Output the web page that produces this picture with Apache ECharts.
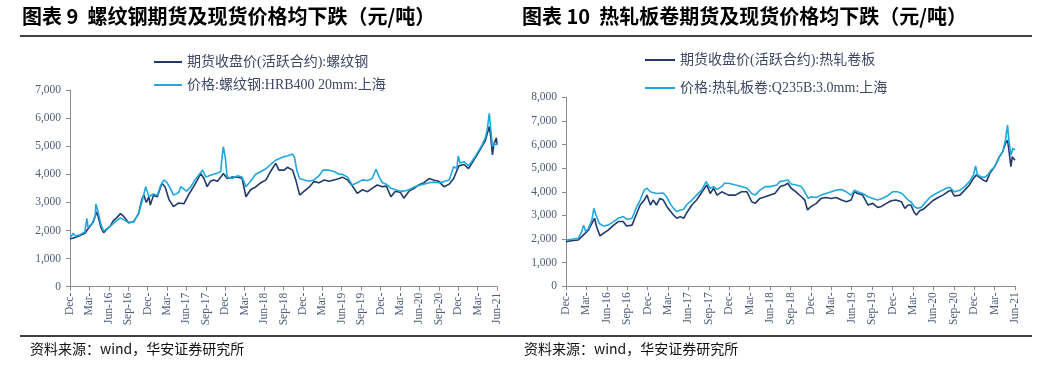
<!DOCTYPE html>
<html><head><meta charset="utf-8">
<script src="https://cdn.jsdelivr.net/npm/echarts@6/dist/echarts.min.js"></script>
<style>html,body{margin:0;padding:0;background:#fff}#c{width:1052px;height:369px}</style>
</head><body><div id="c"></div>
<script>
// x positions are months since Dec-2015 (0 = Dec-15, 66 = Jun-21)
const quarterLabels = ['Dec-','Mar-','Jun-16','Sep-16','Dec-','Mar-','Jun-17','Sep-17','Dec-','Mar-','Jun-18','Sep-18','Dec-','Mar-','Jun-19','Sep-19','Dec-','Mar-','Jun-20','Sep-20','Dec-','Mar-','Jun-21'];
const leftTicks = [0,1000,2000,3000,4000,5000,6000,7000];
const rightTicks = [0,1000,2000,3000,4000,5000,6000,7000,8000];

const rebarFuturesName = '期货收盘价(活跃合约):螺纹钢';
const rebarSpotName = '价格:螺纹钢:HRB400 20mm:上海';
const hrcFuturesName = '期货收盘价(活跃合约):热轧卷板';
const hrcSpotName = '价格:热轧板卷:Q235B:3.0mm:上海';

const rebarFutures = [[0,1700],[0.8,1750],[1.55,1820],[2.3,1900],[2.6,2000],[3.1,2150],[3.6,2300],[4.1,2670],[4.4,2450],[4.8,2100],[5.2,1920],[5.7,2050],[6.2,2150],[6.7,2350],[7.2,2450],[7.8,2600],[8.3,2500],[9.05,2280],[9.8,2300],[10.6,2600],[11.1,3100],[11.4,3260],[11.8,3000],[12.2,3200],[12.4,2900],[12.9,3250],[13.5,3200],[14.2,3680],[14.7,3550],[15.3,3100],[16.0,2850],[16.8,2980],[17.6,2950],[18.4,3300],[19.1,3560],[19.7,3800],[20.2,4030],[20.7,3850],[21.2,3560],[21.7,3750],[22.2,3800],[22.8,3750],[23.3,3900],[23.7,4030],[24.3,3850],[25.1,3900],[25.9,3900],[26.6,3850],[27.2,3200],[27.9,3450],[28.7,3550],[29.5,3700],[30.3,3800],[31.0,4100],[31.8,4390],[32.3,4150],[33.1,4150],[33.6,4250],[34.4,4150],[34.9,3800],[35.5,3260],[36.2,3400],[37.0,3550],[37.7,3740],[38.5,3700],[39.3,3800],[40.0,3750],[40.8,3800],[41.6,3850],[42.1,3900],[42.9,3800],[43.6,3600],[44.4,3320],[45.2,3450],[46.0,3380],[46.7,3500],[47.5,3620],[48.3,3560],[48.9,3580],[49.6,3200],[50.3,3400],[51.1,3350],[51.6,3150],[52.4,3400],[53.2,3500],[53.9,3620],[54.7,3700],[55.5,3850],[56.2,3800],[57.0,3750],[57.8,3560],[58.6,3650],[59.3,3850],[60.1,4300],[60.9,4350],[61.6,4200],[62.4,4500],[63.2,4800],[63.7,5000],[64.2,5200],[64.8,5700],[65.0,5400],[65.3,4690],[65.5,5050],[65.9,5300],[66.0,5050]];

const rebarSpot = [[0,1730],[0.5,1900],[0.8,1800],[1.55,1850],[2.3,1950],[2.6,2430],[2.8,2100],[3.4,2250],[3.9,2500],[4.0,2940],[4.3,2700],[4.8,2200],[5.2,1980],[6.2,2150],[7.2,2350],[7.8,2450],[8.1,2500],[9.05,2280],[9.8,2300],[10.6,2600],[11.1,3000],[11.7,3560],[12.2,3200],[12.9,3300],[13.5,3250],[14.0,3600],[14.5,3800],[15.0,3700],[15.5,3500],[16.0,3260],[16.8,3350],[17.1,3560],[18.0,3400],[18.7,3560],[19.3,3800],[20.0,4000],[20.5,4150],[21.0,3900],[21.5,3950],[22.2,4000],[22.8,4050],[23.3,4100],[23.5,4600],[23.7,4980],[24.0,4600],[24.3,3900],[25.1,3850],[25.9,3950],[26.6,3900],[27.2,3560],[27.9,3750],[28.7,4000],[29.5,4100],[30.3,4200],[31.0,4350],[31.8,4500],[32.3,4550],[33.1,4630],[33.6,4650],[34.4,4720],[34.7,4600],[35.1,4100],[35.5,3850],[36.2,3800],[37.0,3750],[37.7,3800],[38.5,3950],[39.1,4150],[39.9,4150],[40.8,4100],[41.6,4000],[42.1,4000],[42.9,3900],[43.3,3750],[43.6,3620],[44.4,3700],[45.2,3800],[46.0,3780],[46.7,3850],[47.3,4180],[47.8,3900],[48.3,3700],[48.9,3650],[49.6,3500],[50.3,3450],[51.1,3400],[51.6,3400],[52.4,3450],[53.2,3550],[53.9,3600],[54.7,3650],[55.5,3700],[56.2,3720],[57.0,3700],[57.8,3740],[58.6,3800],[59.3,4270],[59.8,4200],[60.0,4650],[60.3,4400],[60.9,4450],[61.6,4300],[62.4,4550],[63.2,4850],[63.7,5050],[64.2,5300],[64.5,5600],[64.8,6170],[65.0,5700],[65.3,4980],[65.5,5100],[65.9,5050],[66.0,5100]];

const hrcFutures = [[0,1890],[0.8,1930],[1.8,1960],[2.3,2100],[2.8,2240],[3.3,2380],[3.8,2660],[4.2,2880],[4.5,2520],[5.0,2130],[5.5,2240],[6.2,2380],[7.0,2590],[7.7,2740],[8.4,2740],[8.9,2550],[9.7,2590],[10.4,3090],[10.9,3440],[11.5,3650],[11.9,3860],[12.4,3440],[12.8,3650],[13.3,3440],[13.8,3720],[14.3,3650],[15.0,3300],[15.8,3020],[16.3,2880],[16.8,2950],[17.3,2880],[17.7,3090],[18.5,3440],[19.2,3650],[20.0,4000],[20.7,4290],[21.2,3930],[21.7,4150],[22.2,3860],[22.9,4000],[23.9,3860],[24.9,3860],[25.8,4000],[26.6,4000],[27.3,3580],[27.8,3510],[28.5,3720],[29.3,3790],[30.0,3860],[30.7,3930],[31.5,4220],[32.2,4290],[32.6,4360],[33.1,4150],[33.8,4000],[34.6,3790],[35.1,3650],[35.5,3230],[36.0,3370],[36.8,3510],[37.5,3720],[38.2,3760],[39.0,3720],[39.7,3760],[40.5,3650],[41.2,3580],[41.9,3650],[42.4,4000],[42.9,3930],[43.6,3860],[44.4,3440],[45.1,3510],[45.8,3340],[46.3,3370],[47.1,3510],[47.8,3620],[48.5,3650],[49.3,3580],[49.8,3300],[50.3,3440],[50.7,3440],[51.2,3120],[51.5,3020],[52.0,3200],[52.5,3260],[53.2,3440],[53.9,3620],[54.7,3760],[55.4,3860],[56.1,4000],[56.6,4070],[57.1,3820],[57.9,3860],[58.6,4070],[59.3,4290],[59.8,4530],[60.3,4710],[60.8,4610],[61.3,4500],[61.8,4430],[62.3,4780],[63.0,5060],[63.7,5480],[64.2,5700],[64.6,6050],[64.9,6190],[65.1,5770],[65.4,5060],[65.6,5480],[66.0,5340]];

const hrcSpot = [[0,1960],[0.8,1990],[1.8,2030],[2.3,2310],[2.6,2590],[2.9,2310],[3.3,2450],[3.8,2800],[4.1,3300],[4.4,3020],[4.9,2660],[5.5,2550],[6.2,2590],[7.0,2740],[7.7,2880],[8.4,2950],[9.0,2830],[9.7,2880],[10.4,3370],[10.9,3650],[11.5,4070],[11.9,4150],[12.4,4000],[13.3,3930],[14.3,3950],[14.8,3790],[15.3,3510],[15.8,3300],[16.3,3160],[16.8,3230],[17.3,3260],[17.7,3440],[18.5,3650],[19.2,3860],[20.0,4100],[20.6,4430],[21.2,4150],[21.7,4220],[22.2,4100],[22.9,4220],[23.3,4360],[23.9,4360],[24.9,4290],[25.8,4220],[26.6,4150],[27.3,3930],[27.8,3860],[28.5,4070],[29.3,4220],[30.0,4220],[31.0,4290],[31.4,4430],[32.1,4470],[32.6,4500],[33.1,4330],[33.8,4290],[34.6,4220],[35.1,4000],[35.6,3720],[36.0,3790],[36.8,3760],[37.5,3860],[38.2,3930],[39.0,4000],[39.7,4070],[40.5,4100],[41.2,4000],[41.9,3860],[42.4,4070],[42.9,4000],[43.6,3930],[44.4,3790],[45.1,3720],[45.8,3650],[46.5,3720],[47.2,3820],[48.0,4000],[48.7,4000],[49.4,3930],[50.3,3650],[50.7,3580],[51.2,3370],[51.7,3300],[52.2,3340],[52.9,3580],[53.6,3790],[54.4,3930],[55.2,4050],[55.9,4150],[56.4,4190],[57.1,4000],[57.9,4070],[58.6,4220],[59.3,4430],[59.9,4710],[60.2,5090],[60.5,4710],[61.0,4640],[61.5,4610],[62.0,4710],[62.5,4920],[63.0,5060],[63.7,5480],[64.2,5700],[64.6,6190],[64.9,6820],[65.1,6190],[65.4,5550],[65.7,5840],[66.0,5770]];

const titleLeft = '图表 9  螺纹钢期货及现货价格均下跌（元/吨）';
const titleRight = '图表 10  热轧板卷期货及现货价格均下跌（元/吨）';
const sourceText = '资料来源：wind，华安证券研究所';

const serif = '"Liberation Serif","Times New Roman","Noto Sans CJK SC",serif';
const DARK = '#213a6b', LIGHT = '#1fa8e0', AXIS = '#8c8c8c', LABEL = '#4d5b78', LEG = '#3e4763';

function fmt(v){ return String(v).replace(/\B(?=(\d{3})+(?!\d))/g, ','); }

function xAxisCfg(gi){
  return {type:'value', gridIndex:gi, min:0, max:66, interval:3,
    axisLine:{show:true, lineStyle:{color:AXIS, width:1}},
    axisTick:{show:true, length:4, lineStyle:{color:AXIS}},
    splitLine:{show:false},
    axisLabel:{rotate:90, margin:6, fontFamily:serif, fontSize:11.5, color:LABEL,
      formatter:(v)=>quarterLabels[Math.round(v/3)]}};
}
function yAxisCfg(gi, ticks){
  return {type:'value', gridIndex:gi, min:ticks[0], max:ticks[ticks.length-1], interval:1000,
    axisLine:{show:true, lineStyle:{color:AXIS, width:1}},
    axisTick:{show:true, length:4, lineStyle:{color:AXIS}},
    splitLine:{show:false},
    axisLabel:{margin:9, fontFamily:serif, fontSize:11.5, color:LABEL, formatter:fmt}};
}
function legendCfg(name, left, top, w){
  return {data:[name], left:left, top:top, padding:0, icon:'rect', itemWidth:w, itemHeight:2,
    selectedMode:false, textStyle:{fontFamily:serif, fontSize:14, color:LEG}};
}
function lineSeries(name, data, color, xi){
  return {name:name, type:'line', data:data, xAxisIndex:xi, yAxisIndex:xi, symbol:'none', showSymbol:false,
    color:color, lineStyle:{color:color, width:1.6}, itemStyle:{color:color}, animation:false};
}

const chart = echarts.init(document.getElementById('c'));
chart.setOption({
  backgroundColor:'#ffffff',
  animation:false,
  grid:[
    {left:70, width:427, top:90, height:196.7, containLabel:false},
    {left:566, width:449, top:97.3, height:189, containLabel:false}
  ],
  xAxis:[xAxisCfg(0), xAxisCfg(1)],
  yAxis:[yAxisCfg(0, leftTicks), yAxisCfg(1, rightTicks)],
  legend:[
    legendCfg(rebarFuturesName, 154, 55, 28),
    legendCfg(rebarSpotName, 154, 78, 28),
    legendCfg(hrcFuturesName, 645, 53, 30),
    legendCfg(hrcSpotName, 645, 81, 30)
  ],
  series:[
    lineSeries(rebarFuturesName, rebarFutures, DARK, 0),
    lineSeries(rebarSpotName, rebarSpot, LIGHT, 0),
    lineSeries(hrcFuturesName, hrcFutures, DARK, 1),
    lineSeries(hrcSpotName, hrcSpot, LIGHT, 1)
  ],
  graphic:[
    {type:'text', left:22, top:6, style:{text:titleLeft, font:'bold 20px "Noto Sans CJK SC"', fill:'#000'}},
    {type:'text', left:522, top:6, style:{text:titleRight, font:'bold 20px "Noto Sans CJK SC"', fill:'#000'}},
    {type:'line', shape:{x1:20, y1:36, x2:1032, y2:36}, style:{stroke:'#000', lineWidth:1.5}},
    {type:'line', shape:{x1:20, y1:336, x2:1032, y2:336}, style:{stroke:'#000', lineWidth:1.5}},
    {type:'text', left:30, top:342, style:{text:sourceText, font:'14px "Noto Sans CJK SC"', fill:'#111'}},
    {type:'text', left:524, top:342, style:{text:sourceText, font:'14px "Noto Sans CJK SC"', fill:'#111'}}
  ]
});
</script></body></html>
